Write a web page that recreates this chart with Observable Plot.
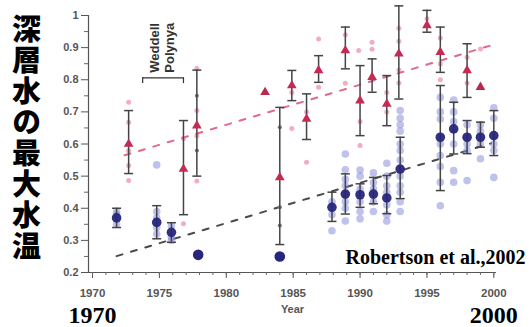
<!DOCTYPE html>
<html><head><meta charset="utf-8">
<script src="https://cdn.jsdelivr.net/npm/d3@7"></script>
<script src="https://cdn.jsdelivr.net/npm/@observablehq/plot@0.6"></script>
<style>
body{margin:0;background:#fff;}
#chart svg{display:block;font-family:"Liberation Sans",Arial,sans-serif;}
.tl text{font-weight:bold;fill:#555;}
.vert text{writing-mode:vertical-rl;letter-spacing:2px;}
</style></head>
<body><div id="chart"></div>
<script>
// Red series (triangles with error bars)
const redYears = [1972.7,1976.8,1977.8,1984.0,1984.9,1986.0,1986.9,1988.9,1990.0,1990.9,1992.0,1992.9,1995.0,1996.0,1998.0];
const redMean  = [0.600,0.522,0.657,0.496,0.782,0.678,0.829,0.891,0.735,0.808,0.725,0.881,0.969,0.886,0.829];
const redLo    = [0.508,0.380,0.500,0.287,0.735,0.614,0.792,0.834,0.626,0.761,0.657,0.740,0.948,0.823,0.745];
const redHi    = [0.704,0.673,0.830,0.714,0.829,0.756,0.875,0.964,0.844,0.865,0.813,1.030,1.016,0.964,0.912];
const redSingleYears = [1982.9,1999.0];
const redSingleVals  = [0.761,0.777];
// Individual red observations (light pink)
const pinkYears = [1972.7,1972.7,1972.7,1972.7,1972.7,1976.8,1976.8,1977.8,1977.8,1977.8,1977.8,1984.9,1984.9,1986.0,1986.0,1986.9,1986.9,1988.9,1988.9,1989.9,1990.0,1990.0,1990.9,1990.9,1992.0,1992.0,1992.9,1992.9,1992.9,1992.9,1995.0,1996.0,1996.0,1996.0,1998.0,1998.0,1999.0];
const pinkVals  = [0.730,0.668,0.579,0.533,0.486,0.617,0.352,0.835,0.704,0.626,0.485,0.648,0.760,0.543,0.700,0.927,0.777,0.789,0.940,0.891,0.595,0.670,0.917,0.895,0.700,0.760,0.960,0.920,0.830,0.790,0.990,0.930,0.850,0.800,0.870,0.790,0.896];
// Grey observations along the wide bars
const greyYears = [1984.0,1984.0,1984.0,1977.8,1977.8];
const greyVals  = [0.652,0.403,0.346,0.750,0.580];
// Blue series (circles with error bars)
const blueYears = [1971.8,1974.8,1975.9,1987.9,1988.9,1990.0,1991.0,1992.0,1993.0,1996.0,1997.0,1998.0,1999.0,2000.0];
const blueMean  = [0.370,0.356,0.325,0.403,0.444,0.442,0.444,0.432,0.522,0.621,0.647,0.621,0.621,0.626];
const blueLo    = [0.340,0.305,0.294,0.359,0.382,0.403,0.414,0.383,0.430,0.455,0.569,0.570,0.590,0.564];
const blueHi    = [0.400,0.408,0.355,0.450,0.507,0.476,0.496,0.502,0.621,0.782,0.730,0.673,0.668,0.704];
const blueSingleYears = [1977.9,1984.0];
const blueSingleVals  = [0.255,0.250];
// Individual blue observations (light blue)
const lbYears = [1971.8,1971.8,1971.8,1974.8,1974.8,1974.8,1974.8,1974.8,1975.9,1975.9,1975.9,1987.9,1987.9,1987.9,
  1988.9,1988.9,1988.9,1988.9,1988.9,1988.9,1988.9,1990.0,1990.0,1990.0,1990.0,1990.0,1990.0,
  1991.0,1991.0,1991.0,1991.0,1991.0,1992.0,1992.0,1992.0,1992.0,1992.0,1992.0,1992.0,
  1993.0,1993.0,1993.0,1993.0,1993.0,1993.0,1993.0,1993.0,1993.0,1993.0,1993.0,1993.0,
  1996.0,1996.0,1996.0,1996.0,1996.0,1996.0,1996.0,1996.0,1997.0,1997.0,1997.0,1997.0,1997.0,1997.0,
  1998.0,1998.0,1998.0,1998.0,1999.0,1999.0,1999.0,1999.0,2000.0,2000.0,2000.0,2000.0,2000.0];
const lbVals = [0.390,0.350,0.380,0.535,0.390,0.370,0.340,0.320,0.345,0.310,0.300,0.330,0.420,0.380,
  0.569,0.520,0.490,0.470,0.420,0.400,0.360,0.519,0.500,0.460,0.420,0.367,0.390,
  0.510,0.480,0.460,0.420,0.390,0.540,0.500,0.470,0.450,0.410,0.380,0.360,
  0.704,0.680,0.660,0.640,0.600,0.580,0.550,0.500,0.470,0.450,0.420,0.390,
  0.745,0.700,0.678,0.600,0.564,0.530,0.481,0.408,0.737,0.700,0.670,0.600,0.517,0.481,
  0.660,0.600,0.580,0.486,0.660,0.640,0.600,0.554,0.713,0.680,0.600,0.580,0.496];
// Trend lines
const redTrendYears = [1972.4,1999.8];
const redTrendVals  = [0.565,0.907];
const blueTrendYears = [1971.8,1999.8];
const blueTrendVals  = [0.251,0.602];
// Ticks and annotations
const yTicks = [0.2,0.3,0.4,0.5,0.6,0.7,0.8,0.9,1.0];
const yMinor = [0.25,0.35,0.45,0.55,0.65,0.75,0.85,0.95];
const xTicks = [1970,1975,1980,1985,1990,1995,2000];
const xMinor = d3.range(1970,2001);
const polynyaYears = [1973.75,1976.8];
const polynyaLabelYear = [1975.15];
const yearMarks = [1970,2000];
const titleText = "深層水の最大水温";

const zip = (xs, ys) => xs.map((x,i)=>({x, y: ys[i]}));
const red = redYears.map((x,i)=>({x, m: redMean[i], lo: redLo[i], hi: redHi[i]}));
const blue = blueYears.map((x,i)=>({x, m: blueMean[i], lo: blueLo[i], hi: blueHi[i]}));
const caps = (rows) => rows.flatMap(d=>[{x:d.x,y:d.lo},{x:d.x,y:d.hi}]);
const capSymbol = {draw(ctx){ ctx.moveTo(-4.5,0); ctx.lineTo(4.5,0); }};
const bracketY = 0.806, bracketTop = 0.822;

const chart = Plot.plot({
  width: 530, height: 327,
  marginLeft: 88, marginRight: 34, marginTop: 15, marginBottom: 55,
  x: {domain: [1969.7, 2000.2], axis: null},
  y: {domain: [0.2, 1.0], axis: null},
  marks: [
    Plot.ruleX([1969.7], {y1: 0.2, y2: 1.0, stroke: "#555", strokeWidth: 1.2}),
    Plot.ruleY([0.2], {x1: 1969.7, x2: 2000.2, stroke: "#555", strokeWidth: 1.2}),
    Plot.axisY({ticks: yTicks, tickSize: 7, tickPadding: 3, fontSize: 11, className: "tl",
      tickFormat: d => d === 1 ? "1" : d.toFixed(1), stroke: "#555"}),
    Plot.axisY({ticks: yMinor, tickSize: 4, tickFormat: () => "", stroke: "#666"}),
    Plot.axisX({ticks: xTicks, tickSize: 6, tickPadding: 10, fontSize: 11.5, className: "tl",
      tickFormat: d => String(d), label: null, stroke: "#555"}),
    Plot.axisX({ticks: xMinor, tickSize: 3, tickFormat: () => "", label: null, stroke: "#666"}),
    Plot.text(["Year"], {frameAnchor: "bottom", dy: 40, fontSize: 11, fontWeight: "bold", fill: "#555"}),
    // Weddell Polynya bracket
    Plot.line(polynyaYears.map(x=>({x})), {x: "x", y: () => bracketY, stroke: "#333", strokeWidth: 1.2}),
    Plot.ruleX(polynyaYears, {y1: bracketY - 0.018, y2: bracketY, stroke: "#333", strokeWidth: 1.2}),
    Plot.text(polynyaLabelYear, {x: d => d, y: () => bracketTop, text: () => "Weddell\nPolynya",
      rotate: -90, textAnchor: "start", lineAnchor: "middle", lineHeight: 1.15, fontSize: 13, fontWeight: "bold", fill: "#333"}),
    // Trend lines
    Plot.line(zip(redTrendYears, redTrendVals), {x: "x", y: "y", stroke: "#e06a88", strokeWidth: 2, strokeDasharray: "6,9"}),
    Plot.line(zip(blueTrendYears, blueTrendVals), {x: "x", y: "y", stroke: "#4a4a4a", strokeWidth: 2, strokeDasharray: "6,9"}),
    // Individual observations
    Plot.dot(zip(lbYears, lbVals), {x: "x", y: "y", r: 3.8, fill: "#7f86d8", fillOpacity: 0.5, stroke: "none"}),
    Plot.dot(zip(pinkYears, pinkVals), {x: "x", y: "y", r: 2.5, fill: "#ee8aa4", fillOpacity: 0.7, stroke: "none"}),
    Plot.dot(zip(greyYears, greyVals), {x: "x", y: "y", r: 2, fill: "#777", stroke: "none"}),
    // Error bars
    Plot.ruleX(red, {x: "x", y1: "lo", y2: "hi", stroke: "#444", strokeWidth: 1.5}),
    Plot.ruleX(blue, {x: "x", y1: "lo", y2: "hi", stroke: "#444", strokeWidth: 1.5}),
    Plot.dot(caps(red), {x: "x", y: "y", symbol: capSymbol, stroke: "#444", strokeWidth: 1.5, fill: "none"}),
    Plot.dot(caps(blue), {x: "x", y: "y", symbol: capSymbol, stroke: "#444", strokeWidth: 1.5, fill: "none"}),
    // Means
    Plot.dot(red, {x: "x", y: "m", symbol: "triangle", r: 3.6, fill: "#c42a52", stroke: "none"}),
    Plot.dot(zip(redSingleYears, redSingleVals), {x: "x", y: "y", symbol: "triangle", r: 3.6, fill: "#b82a4c", stroke: "none"}),
    Plot.dot(blue, {x: "x", y: "m", r: 4.8, fill: "#27267a", fillOpacity: 0.95, stroke: "none"}),
    Plot.dot(zip(blueSingleYears, blueSingleVals), {x: "x", y: "y", r: 5.3, fill: "#27267a", stroke: "none"}),
    // Overlaid annotations
    Plot.text([titleText], {frameAnchor: "top-left", dx: -62, dy: -10, className: "vert",
      textAnchor: "start", lineAnchor: "middle", fontSize: 29, fontWeight: 900, fill: "#000",
      fontFamily: "Noto Sans CJK JP"}),
    Plot.text(["Robertson et al.,2002"], {frameAnchor: "bottom-right", dx: 29, dy: -9, textAnchor: "end",
      lineAnchor: "bottom", fontSize: 20, fontWeight: "bold", fill: "#000", fontFamily: "Liberation Serif"}),
    Plot.text(yearMarks, {x: d => d, text: d => String(d), frameAnchor: "bottom", dy: 50, lineAnchor: "bottom",
      fontSize: 24, fontWeight: "bold", fill: "#000", fontFamily: "Liberation Serif"})
  ]
});
document.getElementById("chart").appendChild(chart);
</script>
</body></html>
